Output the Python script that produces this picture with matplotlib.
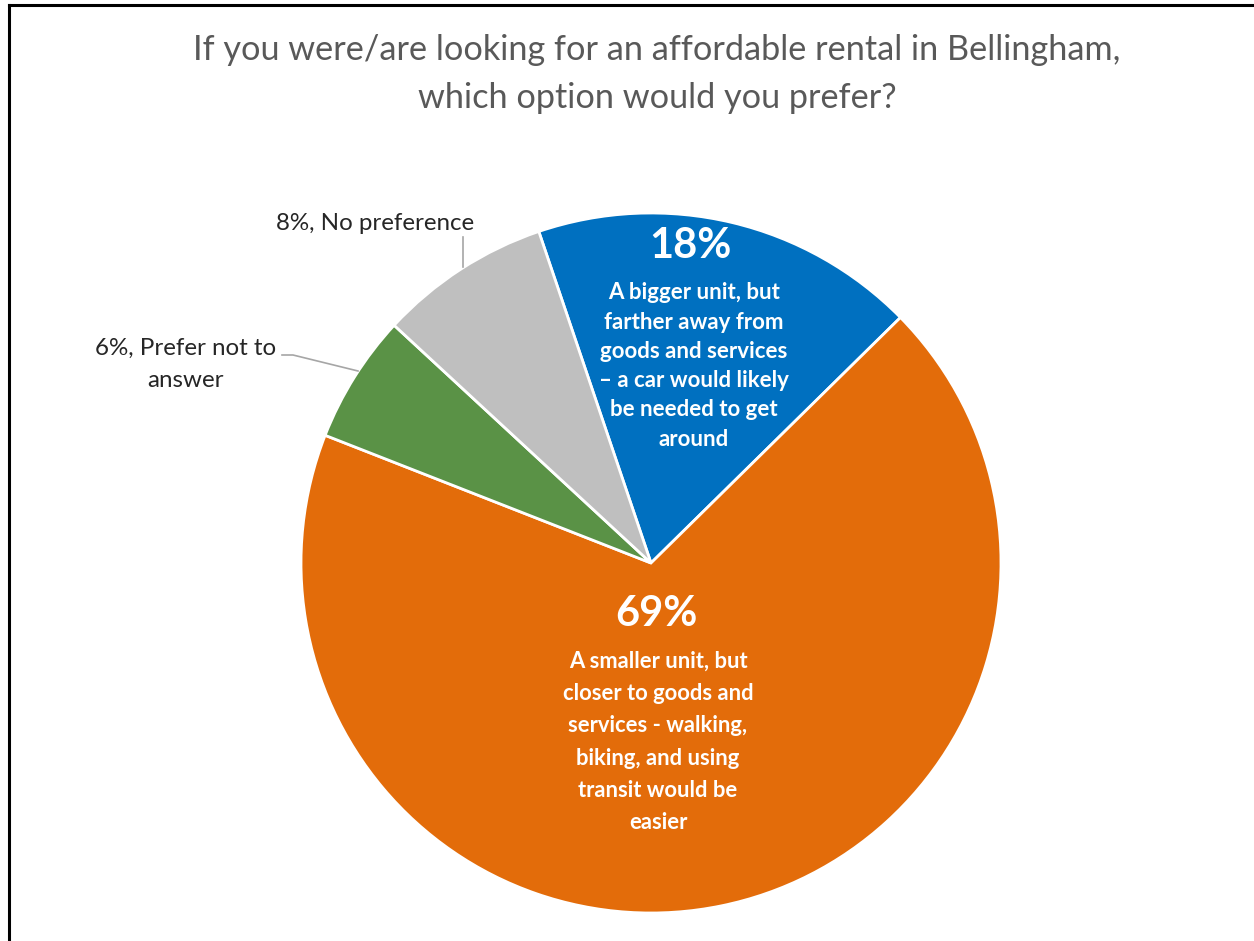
import matplotlib
matplotlib.use("Agg")
import matplotlib.pyplot as plt
from matplotlib.lines import Line2D

plt.rcParams['font.family'] = ['Lato', 'DejaVu Sans']

# Survey responses (percent)
categories = [
    "A bigger unit, but\nfarther away from\ngoods and services\n\u2013 a car would likely\nbe needed to get\naround",
    "A smaller unit, but\ncloser to goods and\nservices - walking,\nbiking, and using\ntransit would be\neasier",
    "Prefer not to\nanswer",
    "No preference",
]
values = [18, 69, 6, 8]
colors = ["#0070C0", "#E36C0A", "#5A9246", "#BFBFBF"]
title = "If you were/are looking for an affordable rental in Bellingham,\nwhich option would you prefer?"

W, H = 1254, 941
fig = plt.figure(figsize=(W / 100, H / 100), dpi=100)
ax = fig.add_axes([0, 0, 1, 1])
ax.set_xlim(0, W)
ax.set_ylim(0, H)
ax.set_aspect("equal")
ax.axis("off")

cx, cy, r = 651, H - 563, 350
ax.pie(values, colors=colors, startangle=108.7, counterclock=False,
       center=(cx, cy), radius=r,
       wedgeprops=dict(edgecolor="white", linewidth=2.0))
ax.set_xlim(0, W)
ax.set_ylim(0, H)

# chart frame (left and top edges)
ax.add_line(Line2D([9, 9], [0, H - 5], color="black", lw=2.2))
ax.add_line(Line2D([9, W], [H - 5, H - 5], color="black", lw=2.2))

ax.text(657, H - 74, title, ha="center", va="center", fontsize=24.7,
        color="#595959", linespacing=1.6)

# inside labels
ax.text(690, H - 246, f"{values[0]}%", ha="center", va="center",
        fontsize=30, fontweight="bold", color="white")
ax.text(694, H - 366, categories[0], ha="center", va="center",
        fontsize=16, fontweight="bold", color="white", linespacing=1.49)
ax.text(656, H - 614, f"{values[1]}%", ha="center", va="center",
        fontsize=30, fontweight="bold", color="white")
ax.text(658, H - 742, categories[1], ha="center", va="center",
        fontsize=15.8, fontweight="bold", color="white", linespacing=1.66)

# outside labels with leader lines
ax.text(375, H - 223, f"{values[3]}%, {categories[3]}", ha="center", va="center",
        fontsize=17.4, color="#262626")
ax.add_line(Line2D([463, 463], [H - 237, H - 267], color="#A6A6A6", lw=1.2))

ax.text(186, H - 364, f"{values[2]}%, {categories[2]}", ha="center", va="center",
        fontsize=17.4, color="#262626", linespacing=1.65)
ax.add_line(Line2D([282, 293, 358], [H - 355, H - 355, H - 371], color="#A6A6A6", lw=1.2))

fig.savefig("out.png", dpi=100, facecolor="white")
